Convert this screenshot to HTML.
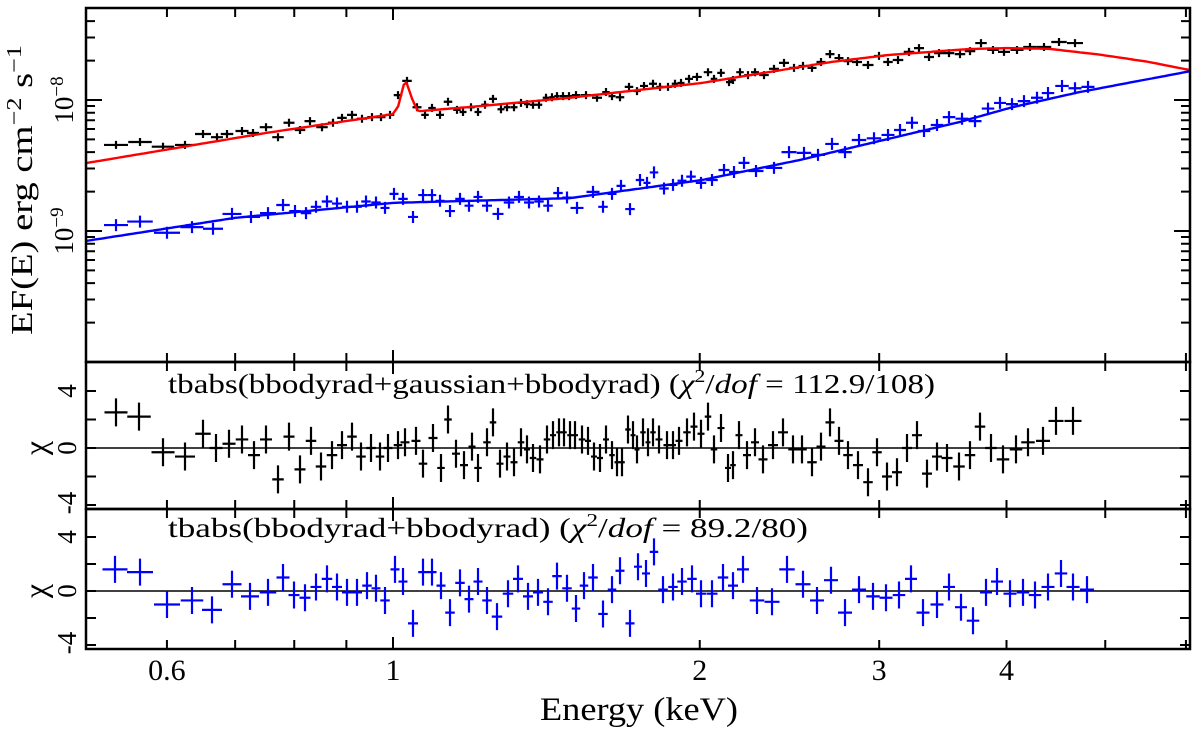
<!DOCTYPE html>
<html><head><meta charset="utf-8"><title>Spectrum fit</title>
<style>
html,body{margin:0;padding:0;background:#fff;}
svg{display:block;font-family:"Liberation Serif",serif;}
</style></head>
<body>
<svg id="chart" width="1200" height="731" viewBox="0 0 1200 731" xmlns="http://www.w3.org/2000/svg">
<defs><clipPath id="topclip"><rect x="86" y="8" width="1104" height="354"/></clipPath></defs>
<g id="marks"></g>
<g id="axes"></g>
<text x="0" y="0" transform="translate(32,190) rotate(-90)" text-anchor="middle" font-size="31" textLength="290" lengthAdjust="spacingAndGlyphs">EF(E) erg cm<tspan dy="-11" font-size="21">−2</tspan><tspan dy="11"> s</tspan><tspan dy="-11" font-size="21">−1</tspan></text>
<text transform="translate(73,100) rotate(-90)" text-anchor="middle" font-size="27">10<tspan dy="-10" font-size="19">−8</tspan></text>
<text transform="translate(73,231) rotate(-90)" text-anchor="middle" font-size="27">10<tspan dy="-10" font-size="19">−9</tspan></text>
<text transform="translate(46,448) rotate(-90)" text-anchor="middle" font-size="32">χ</text>
<text transform="translate(46,591) rotate(-90)" text-anchor="middle" font-size="32">χ</text>
<text transform="translate(76,391) rotate(-90)" text-anchor="middle" font-size="27">4</text>
<text transform="translate(76,448) rotate(-90)" text-anchor="middle" font-size="27">0</text>
<text transform="translate(76,503) rotate(-90)" text-anchor="middle" font-size="27">-4</text>
<text transform="translate(76,537) rotate(-90)" text-anchor="middle" font-size="27">4</text>
<text transform="translate(76,591) rotate(-90)" text-anchor="middle" font-size="27">0</text>
<text transform="translate(76,643) rotate(-90)" text-anchor="middle" font-size="27">-4</text>
<text x="168" y="393" font-size="27" textLength="767" lengthAdjust="spacingAndGlyphs">tbabs(bbodyrad+gaussian+bbodyrad) (<tspan font-style="italic">χ</tspan><tspan dy="-11" font-size="18">2</tspan><tspan dy="11">/</tspan><tspan font-style="italic">dof</tspan> = 112.9/108)</text>
<text x="168" y="537" font-size="27" textLength="640" lengthAdjust="spacingAndGlyphs">tbabs(bbodyrad+bbodyrad) (<tspan font-style="italic">χ</tspan><tspan dy="-11" font-size="18">2</tspan><tspan dy="11">/</tspan><tspan font-style="italic">dof</tspan> = 89.2/80)</text>
<text x="639" y="720" text-anchor="middle" font-size="33" textLength="198" lengthAdjust="spacingAndGlyphs">Energy (keV)</text>
</svg>
<script>
// ---- data (flux in units of 1e-9 erg cm^-2 s^-1) ----
const blackE_px=[116,140,163,185,203,217,227,242,253,266,278,289,300,310,322,333,342,352,362,372,381,390,398,407,417,425,432,440,448,457,463,471,478,485,493,501,507,514,521,527,533,539,546,552,557,563,569,576,586,597,606,612,620,629,637,644,653,660,668,675,681,689,697,708,714,721,729,733,740,748,755,764,774,784,794,803,812,821,830,839,848,857,868,879,888,898,909,919,929,939,949,960,970,981,993,1004,1017,1030,1044,1059,1075];
const blackFlux=[4.54,4.78,4.40,4.54,5.5,5.2,5.5,5.8,5.6,6.2,5.2,6.7,5.9,6.9,6.2,6.7,7.3,7.7,7.2,7.4,7.4,7.7,10.9,14.0,8.8,7.7,8.7,7.7,9.7,8.4,8.1,8.8,8.1,9.2,10.2,8.5,8.8,8.8,9.5,9.3,9.2,9.2,10.4,10.5,10.7,10.7,10.7,10.9,10.9,10.4,11.5,10.7,10.5,12.6,11.7,12.8,13.3,12.6,12.6,13.3,13.5,14.5,15.0,16.3,14.5,16.1,13.7,14.2,16.3,15.5,16.3,15.5,17.3,19.2,17.6,18.2,17.6,19.5,22.4,20.9,19.8,19.5,18.5,21.7,19.5,20.2,23.3,24.9,21.3,22.8,22.8,22.4,23.6,27.2,24.1,23.3,24.1,25.4,25.4,27.7,27.2];
const blueE_px=[116,140,167,192,213,232,251,268,283,295,306,316,327,337,347,357,366,376,385,394,403,413,423,432,440,450,460,469,478,487,498,509,519,529,539,548,558,567,577,593,603,612,621,630,640,647,654,664,673,682,691,701,712,724,734,744,756,774,789,804,818,832,845,859,874,888,900,912,924,937,949,962,975,988,1000,1012,1024,1037,1048,1062,1075,1088];
const blueFlux=[1.11,1.18,0.97,1.07,1.04,1.35,1.28,1.37,1.58,1.42,1.37,1.53,1.68,1.62,1.53,1.53,1.68,1.65,1.50,1.92,1.76,1.28,1.88,1.88,1.70,1.42,1.76,1.56,1.82,1.56,1.35,1.65,1.82,1.65,1.68,1.56,1.95,1.80,1.50,1.99,1.53,1.92,2.21,1.47,2.45,2.33,2.80,2.11,2.25,2.42,2.60,2.33,2.45,2.92,2.82,3.31,2.87,3.03,4.0,3.95,3.81,4.62,4.0,4.95,5.1,5.41,5.9,6.7,5.8,6.44,7.4,7.2,6.9,8.6,9.5,9.3,9.8,10.4,11.3,12.8,12.3,12.6];
const redModelE=[0.5,0.75,1.0,1.012,1.028,1.045,1.058,1.22,1.49,2.01,2.69,3.07,3.68,4.0,4.4,4.94,5.5,6.06];
const redModelF=[3.3,5.6,7.8,9.0,14.5,10.0,8.2,9.0,10.4,13.5,19.5,22.1,24.5,24.9,24.6,22.2,19.6,16.9];
const blueModelE=[0.5,0.7,1.0,1.49,2.01,2.51,3.03,3.6,4.05,4.72,6.06];
const blueModelF=[0.84,1.26,1.64,1.78,2.45,3.49,4.95,6.8,8.8,11.5,16.6];
const res1X_px=[116,139,163,185,203,216,229,242,254,266,278,289,300,311,321,332,342,352,361,371,380,388,398,405,416,423,433,441,448,456,464,472,478,487,493,500,507,514,521,527,533,540,547,553,559,564,570,575,582,588,594,600,606,612,617,622,628,633,637,643,648,653,659,667,673,679,687,694,701,708,714,721,728,733,739,747,755,763,773,783,793,802,812,821,830,839,848,858,868,877,887,897,907,917,927,937,947,959,970,980,991,1003,1016,1028,1043,1056,1073];
const res1Chi=[2.5,2.2,-0.3,-0.6,1.0,0,0.3,0.6,-0.5,0.6,-2.2,0.8,-1.5,0.5,-1.3,-0.5,0.2,0.8,-0.6,0,-0.6,0,0.2,0.4,0.5,-1.1,0.7,-1.4,2.0,-0.4,-1.2,0.1,-1.4,0.4,1.8,-1.1,-0.6,-1.0,0.4,-0.1,-0.7,-0.8,0.6,0.9,1.1,1.1,0.9,0.9,0.6,0.5,-0.6,-0.7,0.6,-0.5,-1.0,-1.0,1.3,0.9,-0.1,1.1,0.4,1.1,0.6,0.2,0.2,0.5,1.1,1.5,1.0,2.2,-0.1,1.4,-1.4,-1.2,0.9,-0.5,0.4,-0.8,0.2,1.1,-0.1,-0.1,-1.0,0.1,1.8,0.5,-0.5,-1.2,-2.4,-0.3,-2.0,-1.7,0.0,0.9,-1.8,-0.6,-0.7,-1.3,-0.5,1.5,0,-0.8,-0.1,0.4,0.5,1.9,1.9];
const res2X_px=[115,140,167,192,212,232,250,268,283,294,305,316,327,337,347,357,367,376,385,395,403,413,423,432,441,450,460,469,478,487,497,508,518,528,538,548,557,567,576,584,593,603,612,620,630,638,646,654,663,673,682,692,701,712,723,733,743,757,772,787,803,817,831,845,859,873,886,899,911,923,937,949,961,973,986,997,1010,1023,1035,1048,1061,1073,1087];
const res2Chi=[1.6,1.4,-1.0,-0.7,-1.4,0.5,-0.4,-0.1,1.0,-0.3,-0.5,0.3,0.9,0.3,-0.1,-0.1,0.4,0.2,-0.7,1.6,0.7,-2.4,1.4,1.4,0.4,-1.6,0.6,-0.6,0.7,-0.7,-1.9,-0.2,0.9,-0.4,-0.1,-0.8,1.1,0.2,-1.3,0.4,1.0,-1.7,0.1,1.5,-2.4,1.8,1.3,2.9,0.1,0.3,0.7,0.9,-0.2,-0.2,1.0,0.4,1.6,-0.7,-0.8,1.6,0.5,-0.7,0.8,-1.6,0.1,-0.4,-0.5,-0.3,0.9,-1.6,-1.0,0.3,-1.2,-2.2,-0.1,0.7,-0.2,-0.1,-0.3,0.3,1.3,0.3,0.1];
const xTickVals=[0.6,1,2,3,4];
const xTickLabels=["0.6","1","2","3","4"];

// ---- axes functions ----
const L=86,R=1190;
function xs(E){return 393+1019*Math.log10(E);}
function xe(px){return Math.pow(10,(px-393)/1019);} // pixel-read position -> energy
function yTop(f){return 231-131*Math.log10(f);}
function yR1(c){return 448-14.25*c;}
function yR2(c){return 591-13.5*c;}
const NS="http://www.w3.org/2000/svg";
const marks=document.getElementById('marks');
const axes=document.getElementById('axes');
function mk(tag,attrs,parent){const e=document.createElementNS(NS,tag);for(const k in attrs)e.setAttribute(k,attrs[k]);parent.appendChild(e);return e;}

function crosses(Es,ys,color,vlen,name,parent){
  const g=mk('g',{},parent);
  
  
  const xsArr=Es.map(xs);
  for(let i=0;i<Es.length;i++){
    const x=xsArr[i];
    const prev=i>0?xsArr[i-1]:x-(xsArr[i+1]-x);
    const next=i<Es.length-1?xsArr[i+1]:x+(x-xsArr[i-1]);
    const h=Math.max(2.5,(next-prev)/4);
    const y=ys[i];
    const p=mk('path',{d:`M${x-h},${y}H${x+h}M${x},${y-vlen}V${y+vlen}`,stroke:color,'stroke-width':2.2,fill:'none'},g);
    
    
  }
}
function model(Es,Fs,color,name){
  let d='';
  const n=400;
  const lo=Math.log10(Es[0]),hi=Math.log10(Es[Es.length-1]);
  for(let k=0;k<=n;k++){
    const le=lo+(hi-lo)*k/n;const E=Math.pow(10,le);
    let j=0;while(j<Es.length-2&&E>Es[j+1])j++;
    const a=Math.log10(Es[j]),b=Math.log10(Es[j+1]);
    const t=(le-a)/(b-a);
    const lf=Math.log10(Fs[j])+t*(Math.log10(Fs[j+1])-Math.log10(Fs[j]));
    d+=(k?'L':'M')+xs(E).toFixed(1)+','+yTop(Math.pow(10,lf)).toFixed(1);
  }
  const p=mk('path',{d:d,stroke:color,'stroke-width':2.4,fill:'none','clip-path':'url(#topclip)','stroke-linejoin':'round'},marks);
  
  
}

crosses(blackE_px.map(xe),blackFlux.map(yTop),'#000',4,'black-spectrum-data',marks);
crosses(blueE_px.map(xe),blueFlux.map(yTop),'#00f',6,'blue-spectrum-data',marks);
model(redModelE,redModelF,'#f00','red-model-curve');
model(blueModelE,blueModelF,'#00f','blue-model-curve');
let z1=mk('line',{x1:L,x2:R,y1:yR1(0),y2:yR1(0),stroke:'#000','stroke-width':1.6},marks);


let z2=mk('line',{x1:L,x2:R,y1:yR2(0),y2:yR2(0),stroke:'#000','stroke-width':1.6},marks);


crosses(res1X_px.map(xe),res1Chi.map(yR1),'#000',14,'resid1-data',marks);
crosses(res2X_px.map(xe),res2Chi.map(yR2),'#00f',13.5,'resid2-data',marks);

const panels=[[8,362],[362,509],[509,649]];
panels.forEach((pn,i)=>{
  const r=mk('rect',{x:L,y:pn[0],width:R-L,height:pn[1]-pn[0],fill:'none',stroke:'#000','stroke-width':2.5},axes);
  
  
  [0.5,0.6,0.7,0.8,0.9,1,2,3,4,5,6].forEach(E=>{
    const x=xs(E);if(x<L+1||x>R-1)return;
    const len=(E===1)?12:9;
    mk('path',{d:`M${x},${pn[0]}v${len}M${x},${pn[1]}v${-len}`,stroke:'#000','stroke-width':2},axes);
  });
});
for(let dec=-10;dec<=-8;dec++){
  for(let m=1;m<=9;m++){
    const f=m*Math.pow(10,dec+9);const y=yTop(f);
    if(y<9||y>361)continue;
    const len=m===1?16:9;
    mk('path',{d:`M${L},${y}h${len}M${R},${y}h${-len}`,stroke:'#000','stroke-width':2},axes);
  }
}
[-4,-2,0,2,4].forEach(c=>{
  const y1=yR1(c);if(y1>363&&y1<508)mk('path',{d:`M${L},${y1}h10M${R},${y1}h-10`,stroke:'#000','stroke-width':2},axes);
  const y2=yR2(c);if(y2>510&&y2<648)mk('path',{d:`M${L},${y2}h10M${R},${y2}h-10`,stroke:'#000','stroke-width':2},axes);
});
xTickVals.forEach((E,i)=>{
  const t=mk('text',{x:xs(E),y:680,'text-anchor':'middle','font-size':30},axes);
  t.textContent=xTickLabels[i];
  
  
});
</script>
</body></html>
